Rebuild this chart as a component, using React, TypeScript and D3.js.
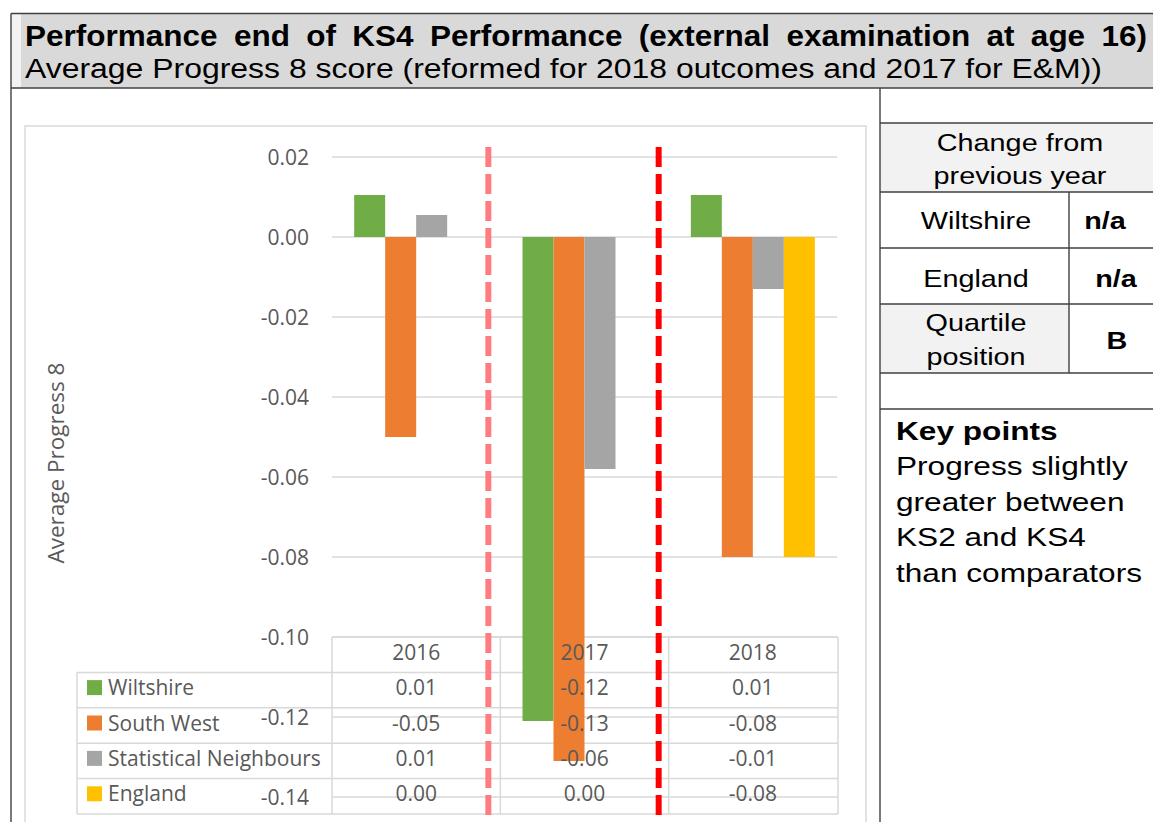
import React, { useEffect, useRef } from 'react';
import * as d3 from 'd3';

// chart data
const years = ['2016', '2017', '2018'];
const seriesNames = ['Wiltshire', 'South West', 'Statistical Neighbours', 'England'];
const wiltshire = [0.0105, -0.121, 0.0105];
const southWest = [-0.05, -0.131, -0.08];
const statNeighbours = [0.0055, -0.058, -0.013];
const england = [0, 0, -0.08];
const yTicks = [0.02, 0, -0.02, -0.04, -0.06, -0.08, -0.1, -0.12, -0.14];

// side panel
const changeRows = [
  ['Wiltshire', 'n/a'],
  ['England', 'n/a'],
];
const quartileLabel = ['Quartile', 'position'];
const quartileValue = 'B';
const keyPointLines = ['Progress slightly', 'greater between', 'KS2 and KS4', 'than comparators'];

const titleText = 'Performance end of KS4 Performance (external examination at age 16)';
const subtitleText = 'Average Progress 8 score (reformed for 2018 outcomes and 2017 for E&M))';

const seriesValues = [wiltshire, southWest, statNeighbours, england];
const colors = ['#70ad47', '#ed7d31', '#a5a5a5', '#ffc000'];

const W = 1153;
const H = 822;
const frame = '#404040';
const grid = '#d9d9d9';
const ink = '#595959';
const chartFont = "'Open Sans', sans-serif";
const arial = "'Liberation Sans', Arial, sans-serif";

const fmt = d3
  .formatLocale({ decimal: '.', thousands: ',', grouping: [3], currency: ['', ''], minus: '-' })
  .format('.2f');

const x0 = d3.scaleBand<string>().domain(years).range([332, 837]);
const x1 = d3
  .scaleBand<string>()
  .domain(seriesNames)
  .range([0, x0.bandwidth()])
  .paddingOuter(0.715);
const y = d3.scaleLinear().domain([-0.14, 0.02]).range([797, 157]);
const rowY = d3
  .scaleBand<string>()
  .domain(['year', ...seriesNames])
  .range([637, 814]);

// wider-than-Arial text in the side panel
const sx = 1.2;
const stretch = (x: number, yy: number, s = sx) => `translate(${x},${yy}) scale(${s},1)`;
const titleSx = 1.05;

export default function App() {
  const titleRef = useRef<SVGTextElement>(null);

  useEffect(() => {
    // justify the title between 25 and 1147
    const t = titleRef.current;
    if (!t) return;
    t.setAttribute('word-spacing', '0');
    const w = t.getComputedTextLength();
    const spaces = titleText.split(' ').length - 1;
    t.setAttribute('word-spacing', String((1122 / titleSx - w) / spaces));
  }, []);

  const tableRight = 838;
  const tableLeft = 77;
  const rowMid = (k: string) => rowY(k)! + rowY.bandwidth() / 2 - 3;

  return (
    <svg
      width={W}
      height={H}
      style={{ position: 'absolute', left: 0, top: 0, display: 'block', background: '#fff' }}
    >
      {/* header band */}
      <rect x={11} y={14} width={W - 11} height={74} fill="#f2f2f2" />
      <rect x={21} y={14} width={W - 21} height={74} fill="#d9d9d9" />
      <text
        ref={titleRef}
        transform={stretch(25, 45.5, titleSx)}
        fontFamily={arial}
        fontWeight="bold"
        fontSize={30}
        fill="#000"
      >
        {titleText}
      </text>
      <text
        x={25}
        y={78}
        fontFamily={arial}
        fontSize={27}
        fill="#000"
        textLength={1077}
        lengthAdjust="spacingAndGlyphs"
      >
        {subtitleText}
      </text>

      {/* chart box */}
      <rect x={25} y={126} width={841} height={H} fill="#fff" stroke={grid} strokeWidth={1.5} />

      {/* gridlines */}
      {yTicks.map((t) => (
        <line key={t} x1={332} x2={837} y1={y(t)} y2={y(t)} stroke={grid} strokeWidth={1.5} />
      ))}
      {yTicks.map((t) => (
        <text
          key={'l' + t}
          x={309}
          y={y(t)}
          textAnchor="end"
          dominantBaseline="central"
          fontFamily={chartFont}
          fontSize={21}
          fill={ink}
        >
          {fmt(t)}
        </text>
      ))}
      <text
        transform="translate(64,463) rotate(-90)"
        textAnchor="middle"
        fontFamily={chartFont}
        fontSize={22.5}
        fill={ink}
      >
        Average Progress 8
      </text>

      {/* data table lines */}
      <g stroke={grid} strokeWidth={1.5} fill="none">
        <line x1={332} x2={tableRight} y1={637} y2={637} />
        {seriesNames.map((s) => (
          <line key={s} x1={tableLeft} x2={tableRight} y1={rowY(s)!} y2={rowY(s)!} />
        ))}
        <line x1={tableLeft} x2={tableRight} y1={814} y2={814} />
        <line x1={tableLeft} x2={tableLeft} y1={rowY(seriesNames[0])!} y2={814} />
        {years.map((yr) => (
          <line key={yr} x1={x0(yr)!} x2={x0(yr)!} y1={637} y2={814} />
        ))}
        <line x1={tableRight} x2={tableRight} y1={637} y2={814} />
      </g>

      {/* bars */}
      {seriesNames.map((s, i) =>
        years.map((yr, j) => {
          const v = seriesValues[i][j];
          return (
            <rect
              key={s + yr}
              x={x0(yr)! + x1(s)!}
              y={y(Math.max(0, v))}
              width={x1.bandwidth()}
              height={Math.abs(y(v) - y(0))}
              fill={colors[i]}
            />
          );
        })
      )}

      {/* data table text */}
      <g fontFamily={chartFont} fontSize={21} fill={ink} textAnchor="middle" dominantBaseline="central">
        {years.map((yr) => (
          <text key={yr} x={x0(yr)! + x0.bandwidth() / 2} y={rowMid('year')}>
            {yr}
          </text>
        ))}
        {seriesNames.map((s, i) =>
          years.map((yr, j) => (
            <text key={s + yr} x={x0(yr)! + x0.bandwidth() / 2} y={rowMid(s)}>
              {fmt(seriesValues[i][j])}
            </text>
          ))
        )}
      </g>
      {seriesNames.map((s, i) => (
        <g key={s}>
          <rect x={87} y={rowMid(s) - 7} width={15} height={15} fill={colors[i]} />
          <text
            x={108}
            y={rowMid(s)}
            dominantBaseline="central"
            fontFamily={chartFont}
            fontSize={21}
            fill={ink}
          >
            {s}
          </text>
        </g>
      ))}

      {/* dashed year separators */}
      <line
        x1={x0('2017')! - 12}
        x2={x0('2017')! - 12}
        y1={147}
        y2={H}
        stroke="#ff7c80"
        strokeWidth={6}
        strokeDasharray="20 7"
      />
      <line
        x1={x0('2018')! - 10}
        x2={x0('2018')! - 10}
        y1={147}
        y2={H}
        stroke="#ff0000"
        strokeWidth={6}
        strokeDasharray="20 7"
      />

      {/* side panel */}
      <rect x={880} y={123} width={W - 880} height={69} fill="#f2f2f2" />
      <rect x={880} y={304} width={189} height={69} fill="#f2f2f2" />
      <g fontFamily={arial} fontSize={24} fill="#000">
        <text transform={stretch(1020, 151)} textAnchor="middle">Change from</text>
        <text transform={stretch(1020, 184)} textAnchor="middle">previous year</text>
        {changeRows.map(([label, val], i) => (
          <g key={label}>
            <text transform={stretch(976, 229 + i * 58)} textAnchor="middle">{label}</text>
            <text transform={stretch(1105 + i * 11, 229 + i * 58)} textAnchor="middle" fontWeight="bold">
              {val}
            </text>
          </g>
        ))}
        {quartileLabel.map((l, i) => (
          <text key={l} transform={stretch(976, 331 + i * 34)} textAnchor="middle">{l}</text>
        ))}
        <text transform={stretch(1117, 349)} textAnchor="middle" fontWeight="bold">{quartileValue}</text>
      </g>
      <g fontFamily={arial} fontSize={25.5} fill="#000">
        <text transform={stretch(896, 440, 1.24)} fontWeight="bold">Key points</text>
        {keyPointLines.map((l, i) => (
          <text key={l} transform={stretch(896, 475 + i * 35.7, 1.24)}>{l}</text>
        ))}
      </g>

      {/* frame lines */}
      <g stroke={frame} strokeWidth={1.4}>
        <line x1={11} x2={W} y1={13.5} y2={13.5} />
        <line x1={11} x2={11} y1={13.5} y2={H} />
        <line x1={11} x2={W} y1={88} y2={88} />
        <line x1={880} x2={880} y1={88} y2={H} />
        {[123, 192, 248, 304, 373, 409].map((ly) => (
          <line key={ly} x1={880} x2={W} y1={ly} y2={ly} />
        ))}
        <line x1={1069} x2={1069} y1={192} y2={373} />
      </g>
    </svg>
  );
}
